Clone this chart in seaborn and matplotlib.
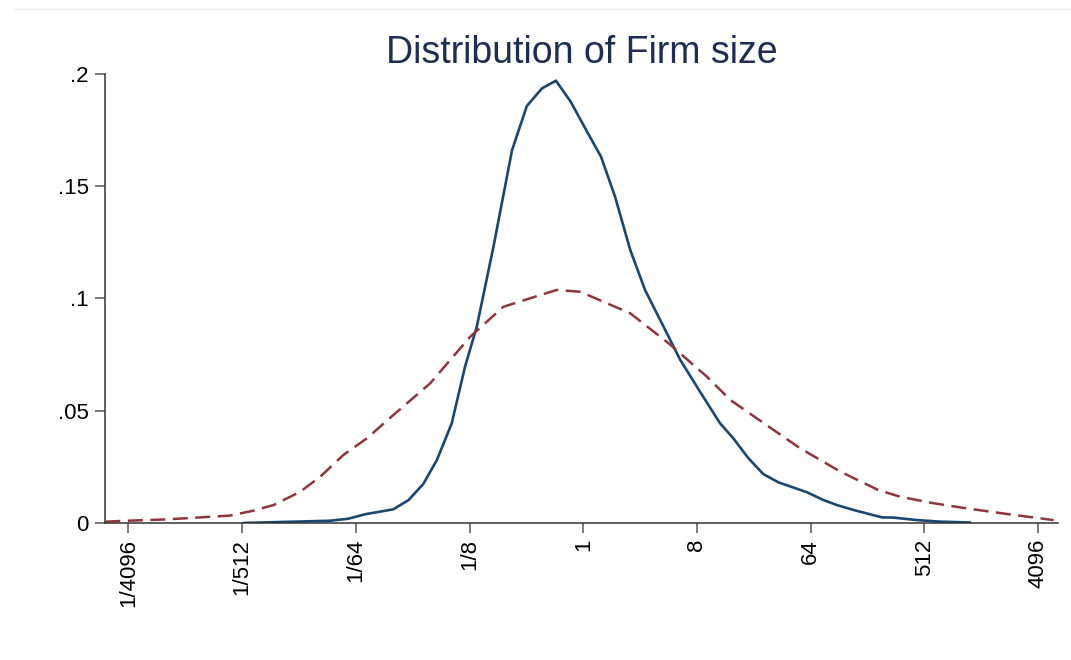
import numpy as np
import pandas as pd
import matplotlib
matplotlib.use("Agg")
import matplotlib.pyplot as plt
from matplotlib.lines import Line2D
import seaborn as sns

# firm size (log2 of relative size) and density
solid_log2 = [-8.97, -6.68, -6.20, -5.75, -5.01, -4.61, -4.22, -3.86, -3.47, -3.12,
              -2.81, -2.37, -1.88, -1.49, -1.09, -0.72, -0.33, 0.10, 0.47, 0.84,
              1.24, 1.63, 2.12, 2.56, 3.08, 3.61, 3.96, 4.36, 4.75, 5.15,
              5.90, 6.34, 6.69, 7.13, 7.88, 8.18, 8.80, 9.42, 10.21]
solid_dens = [0.0000, 0.0010, 0.0019, 0.0039, 0.0061, 0.0102, 0.0174, 0.0281, 0.0444, 0.0696,
              0.0874, 0.1230, 0.1660, 0.1857, 0.1936, 0.1970, 0.1876, 0.1743, 0.1631, 0.1453,
              0.1216, 0.1038, 0.0874, 0.0726, 0.0585, 0.0444, 0.0377, 0.0288, 0.0218, 0.0181,
              0.0137, 0.0102, 0.0080, 0.0058, 0.0025, 0.0024, 0.0013, 0.0006, 0.0002]

dash_log2 = [-12.61, -12.04, -10.99, -10.11, -9.32, -8.70, -8.17, -7.47, -6.94, -6.33,
             -5.71, -5.01, -4.04, -2.98, -2.11, -1.40, -0.70, -0.08, 1.24, 2.24,
             3.26, 3.88, 4.58, 5.72, 6.78, 7.78, 8.36, 9.24, 10.12, 11.35, 12.41]
dash_dens = [0.0006, 0.0010, 0.0016, 0.0025, 0.0033, 0.0055, 0.0080, 0.0139, 0.0206, 0.0303,
             0.0377, 0.0481, 0.0622, 0.0830, 0.0963, 0.1001, 0.1038, 0.1030, 0.0934, 0.0802,
             0.0652, 0.0548, 0.0466, 0.0333, 0.0229, 0.0147, 0.0117, 0.0088, 0.0065, 0.0036, 0.0013]

tick_vals = [1/4096, 1/512, 1/64, 1/8, 1, 8, 64, 512, 4096]
tick_labels = ["1/4096", "1/512", "1/64", "1/8", "1", "8", "64", "512", "4096"]
ytick_vals = [0, 0.05, 0.1, 0.15, 0.2]
ytick_labels = ["0", ".05", ".1", ".15", ".2"]

solid = pd.DataFrame({"size": 2.0 ** np.array(solid_log2), "density": solid_dens})
dash = pd.DataFrame({"size": 2.0 ** np.array(dash_log2), "density": dash_dens})

sns.set_style("ticks")
plt.rcParams["font.family"] = ["Liberation Sans", "DejaVu Sans"]

fig = plt.figure(figsize=(10.71, 6.6), dpi=100)
ax = fig.add_axes([0.098, 0.2076, 0.89, 0.6803])

sns.lineplot(data=solid, x="size", y="density", ax=ax, color="#1a476f", linewidth=1.9)
sns.lineplot(data=dash, x="size", y="density", ax=ax, color="#90353b", linewidth=1.8,
             dashes=False)
ax.lines[-1].set_dashes((6, 3))

ax.set_xscale("log", base=2)
ax.set_xlim(2.0 ** -12.62, 2.0 ** 12.53)
ax.set_ylim(0, 0.2)
ax.set_xticks(tick_vals)
ax.set_xticklabels(tick_labels, rotation=90, fontsize=16)
ax.minorticks_off()
ax.set_yticks(ytick_vals)
ax.set_yticklabels(ytick_labels, fontsize=16)
ax.set_xlabel("")
ax.set_ylabel("")

for s in ["top", "right"]:
    ax.spines[s].set_visible(False)
for s in ["left", "bottom"]:
    ax.spines[s].set_color("#333333")
    ax.spines[s].set_linewidth(1.1)
ax.tick_params(axis="both", length=7.5, width=1.1, color="#555555", pad=4, labelcolor="black")

ax.set_title("Distribution of Firm size", fontsize=27, color="#1e2d53", pad=8)

# faint line along the top of the screenshot
fig.add_artist(Line2D([0.012, 1.0], [0.986, 0.986], transform=fig.transFigure,
                      color="#e8eef0", linewidth=1))

fig.savefig("out.png", dpi=100, facecolor="white")
